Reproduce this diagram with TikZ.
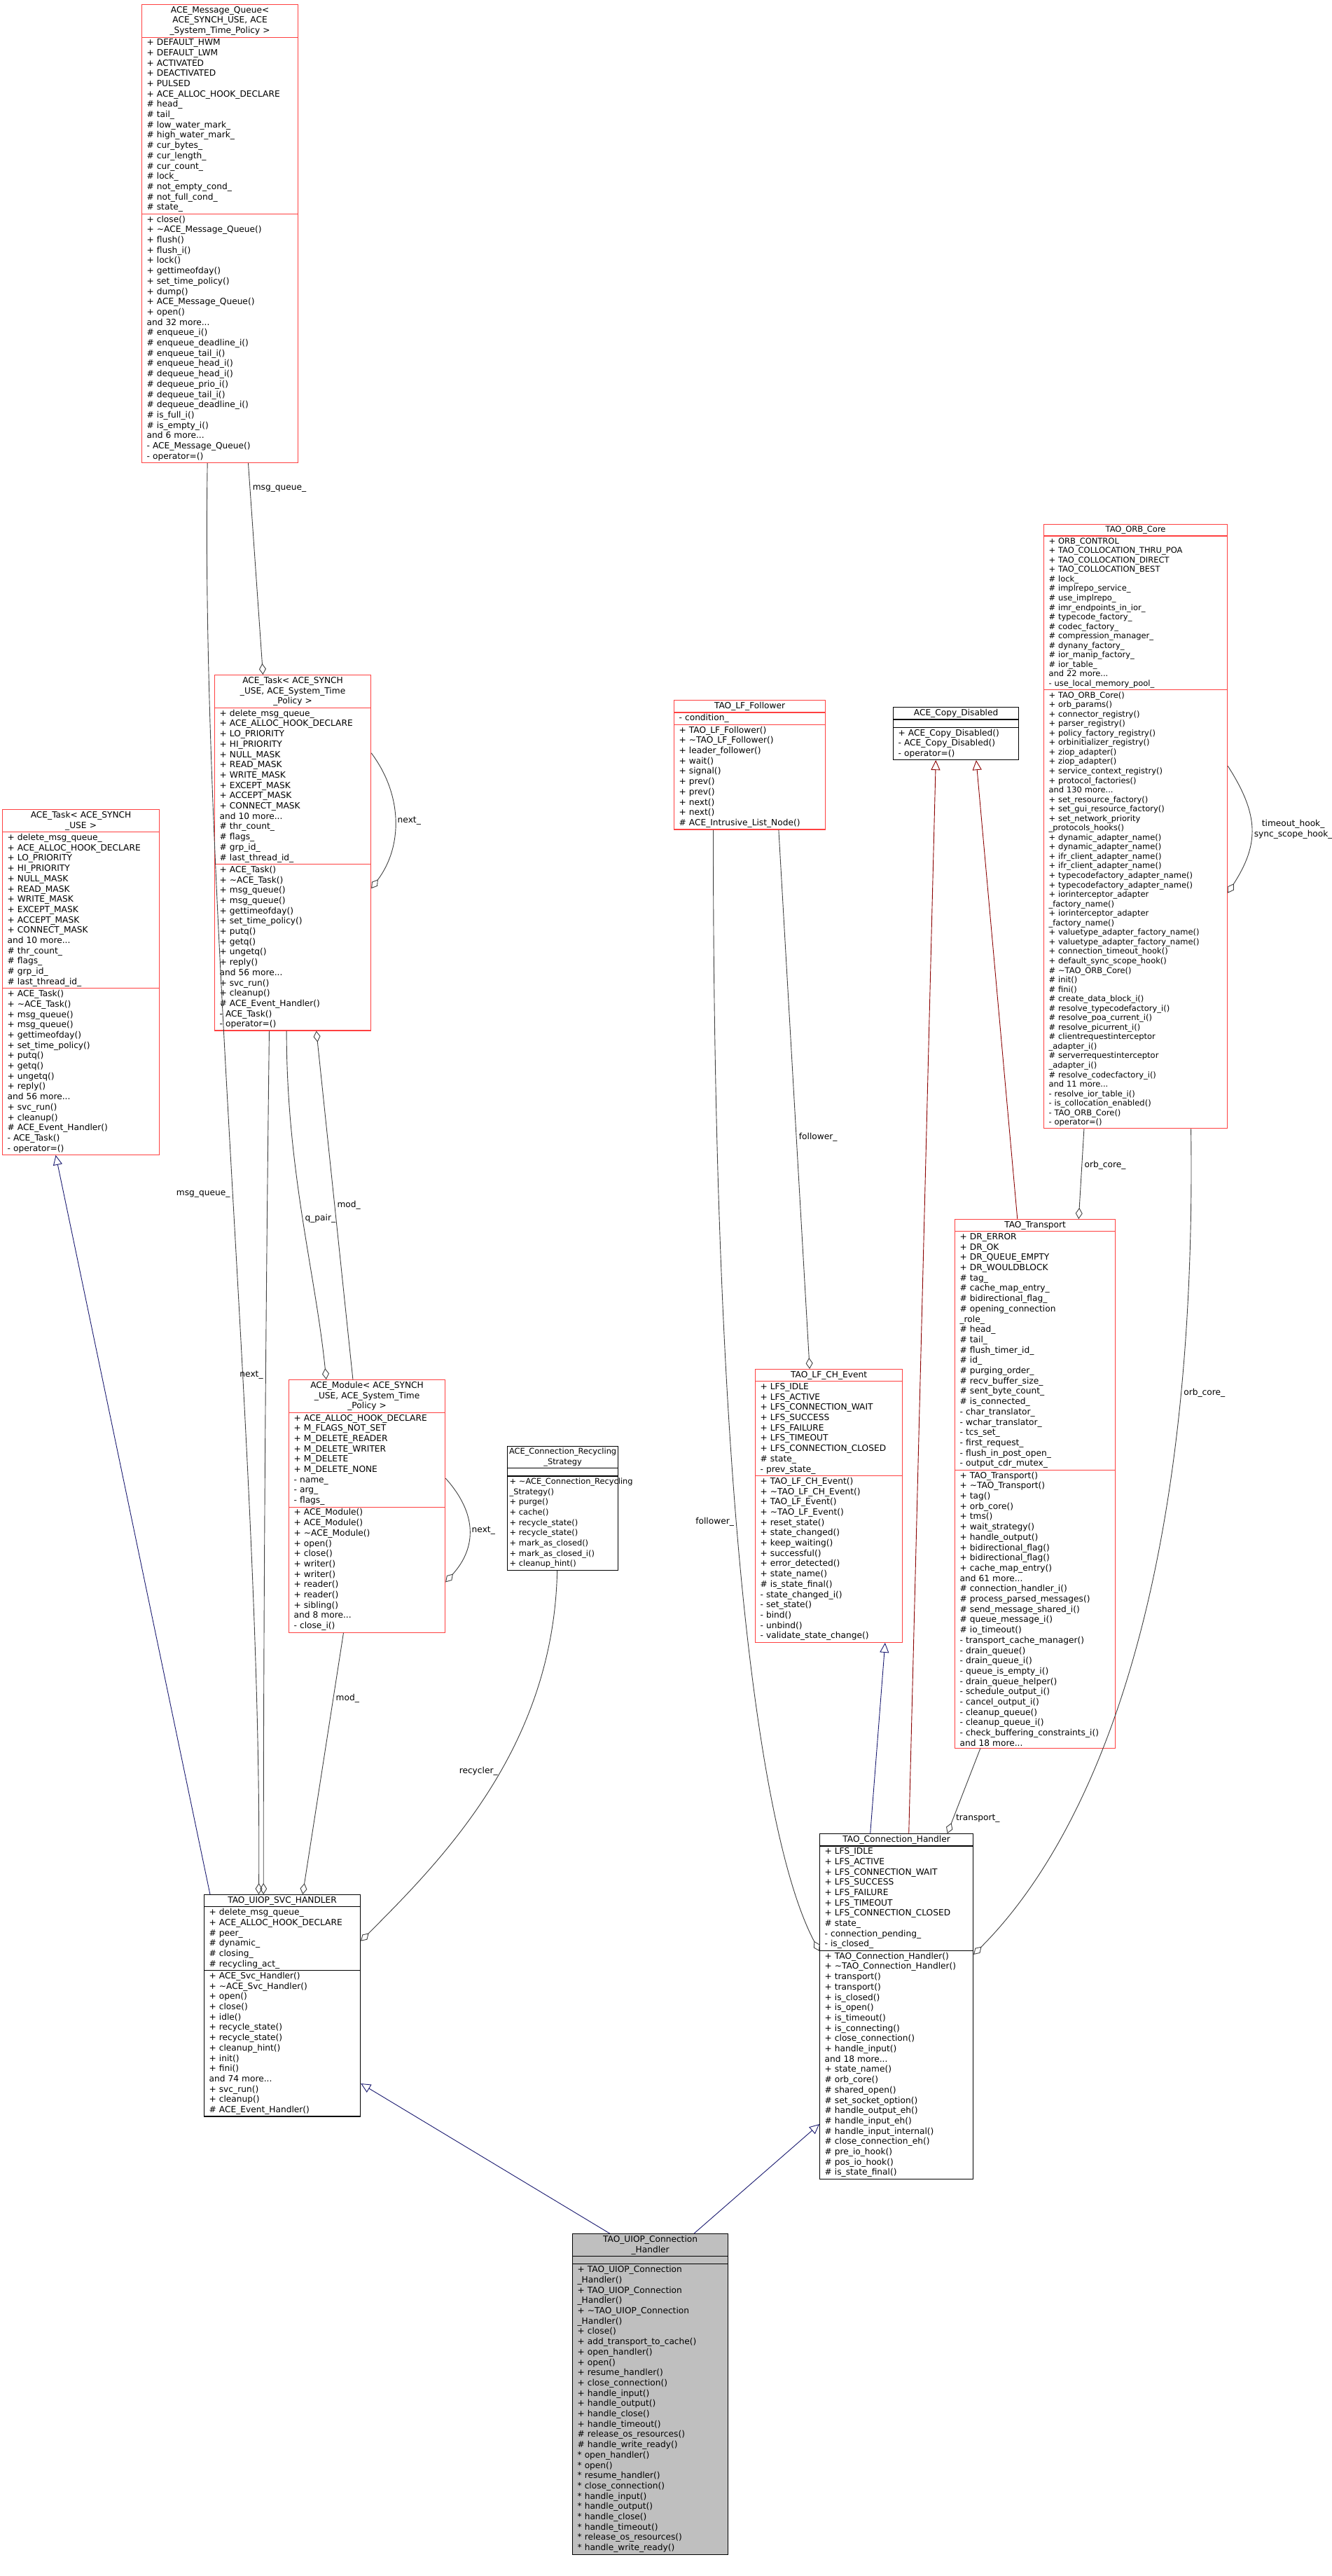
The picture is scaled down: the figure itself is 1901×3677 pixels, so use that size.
\documentclass[tikz,border=0pt]{standalone}
\usepackage{fontspec}
\setmainfont{DejaVu Sans}
\usetikzlibrary{shapes.multipart,arrows.meta,calc}
\definecolor{BoxRed}{RGB}{255,64,64}
\definecolor{EdgeGray}{RGB}{64,64,64}
\definecolor{InhBlue}{RGB}{25,25,112}
\definecolor{InhRed}{RGB}{139,0,0}
\definecolor{MainGray}{RGB}{191,191,191}
\newcommand\titleLine[1]{\makebox[\hsize][c]{#1}}

\begin{document}
\catcode`\_=12
\begin{tikzpicture}[x=1pt, y=-1pt,
    font=\fontsize{12.2}{14.7}\selectfont,
    classBox/.style={rectangle split, rectangle split parts=3, draw=BoxRed,
        line width=1.2pt, fill=white, anchor=north west, align=left,
        inner xsep=7pt, inner ysep=2pt},
    blackBox/.style={classBox, draw=black},
    aggLine/.style={draw=EdgeGray, line width=0.9pt,
        -{Diamond[open,length=16pt,width=10pt]}},
    inhBlue/.style={draw=InhBlue, line width=0.9pt,
        {Triangle[open,length=14pt,width=13pt]}-},
    inhRed/.style={inhBlue, draw=InhRed}]

    \fill[white] (0,0) rectangle (1901,3677);
    \useasboundingbox (0,0) rectangle (1901,3677);

    \node[classBox, text width=209pt] (MsgQueue) at (202,6) {\titleLine{ACE_Message_Queue<}\\\titleLine{ACE_SYNCH_USE, ACE}\\\titleLine{_System_Time_Policy >}
    \nodepart{two} + DEFAULT_HWM\\+ DEFAULT_LWM\\+ ACTIVATED\\+ DEACTIVATED\\+ PULSED\\+ ACE_ALLOC_HOOK_DECLARE\\\# head_\\\# tail_\\\# low_water_mark_\\\# high_water_mark_\\\# cur_bytes_\\\# cur_length_\\\# cur_count_\\\# lock_\\\# not_empty_cond_\\\# not_full_cond_\\\# state_
    \nodepart{three} + close()\\+ \textasciitilde ACE_Message_Queue()\\+ flush()\\+ flush_i()\\+ lock()\\+ gettimeofday()\\+ set_time_policy()\\+ dump()\\+ ACE_Message_Queue()\\+ open()\\and 32 more...\\\# enqueue_i()\\\# enqueue_deadline_i()\\\# enqueue_tail_i()\\\# enqueue_head_i()\\\# dequeue_head_i()\\\# dequeue_prio_i()\\\# dequeue_tail_i()\\\# dequeue_deadline_i()\\\# is_full_i()\\\# is_empty_i()\\and 6 more...\\- ACE_Message_Queue()\\- operator=()};

    \node[classBox, text width=209pt] (Task) at (306,963) {\titleLine{ACE_Task< ACE_SYNCH}\\\titleLine{_USE, ACE_System_Time}\\\titleLine{_Policy >}
    \nodepart{two} + delete_msg_queue_\\+ ACE_ALLOC_HOOK_DECLARE\\+ LO_PRIORITY\\+ HI_PRIORITY\\+ NULL_MASK\\+ READ_MASK\\+ WRITE_MASK\\+ EXCEPT_MASK\\+ ACCEPT_MASK\\+ CONNECT_MASK\\and 10 more...\\\# thr_count_\\\# flags_\\\# grp_id_\\\# last_thread_id_
    \nodepart{three} + ACE_Task()\\+ \textasciitilde ACE_Task()\\+ msg_queue()\\+ msg_queue()\\+ gettimeofday()\\+ set_time_policy()\\+ putq()\\+ getq()\\+ ungetq()\\+ reply()\\and 56 more...\\+ svc_run()\\+ cleanup()\\\# ACE_Event_Handler()\\- ACE_Task()\\- operator=()};

    \node[classBox, text width=210pt] (TaskSynch) at (3,1155) {\titleLine{ACE_Task< ACE_SYNCH}\\\titleLine{_USE >}
    \nodepart{two} + delete_msg_queue_\\+ ACE_ALLOC_HOOK_DECLARE\\+ LO_PRIORITY\\+ HI_PRIORITY\\+ NULL_MASK\\+ READ_MASK\\+ WRITE_MASK\\+ EXCEPT_MASK\\+ ACCEPT_MASK\\+ CONNECT_MASK\\and 10 more...\\\# thr_count_\\\# flags_\\\# grp_id_\\\# last_thread_id_
    \nodepart{three} + ACE_Task()\\+ \textasciitilde ACE_Task()\\+ msg_queue()\\+ msg_queue()\\+ gettimeofday()\\+ set_time_policy()\\+ putq()\\+ getq()\\+ ungetq()\\+ reply()\\and 56 more...\\+ svc_run()\\+ cleanup()\\\# ACE_Event_Handler()\\- ACE_Task()\\- operator=()};

    \node[classBox, text width=209pt] (Module) at (412,1969) {\titleLine{ACE_Module< ACE_SYNCH}\\\titleLine{_USE, ACE_System_Time}\\\titleLine{_Policy >}
    \nodepart{two} + ACE_ALLOC_HOOK_DECLARE\\+ M_FLAGS_NOT_SET\\+ M_DELETE_READER\\+ M_DELETE_WRITER\\+ M_DELETE\\+ M_DELETE_NONE\\- name_\\- arg_\\- flags_
    \nodepart{three} + ACE_Module()\\+ ACE_Module()\\+ \textasciitilde ACE_Module()\\+ open()\\+ close()\\+ writer()\\+ writer()\\+ reader()\\+ reader()\\+ sibling()\\and 8 more...\\- close_i()};

    \node[blackBox, text width=152pt, inner xsep=3pt, font=\fontsize{11.4}{14.7}\selectfont] (Recycler) at (724,2064) {\titleLine{ACE_Connection_Recycling}\\\titleLine{_Strategy}
    \nodepart{two} \rule{0pt}{6pt}
    \nodepart{three} \mbox{+ \textasciitilde ACE_Connection_Recycling}\\_Strategy()\\+ purge()\\+ cache()\\+ recycle_state()\\+ recycle_state()\\+ mark_as_closed()\\+ mark_as_closed_i()\\+ cleanup_hint()};

    \node[blackBox, text width=209pt] (SvcHandler) at (291,2704) {\titleLine{TAO_UIOP_SVC_HANDLER}
    \nodepart{two} + delete_msg_queue_\\+ ACE_ALLOC_HOOK_DECLARE\\\# peer_\\\# dynamic_\\\# closing_\\\# recycling_act_
    \nodepart{three} + ACE_Svc_Handler()\\+ \textasciitilde ACE_Svc_Handler()\\+ open()\\+ close()\\+ idle()\\+ recycle_state()\\+ recycle_state()\\+ cleanup_hint()\\+ init()\\+ fini()\\and 74 more...\\+ svc_run()\\+ cleanup()\\\# ACE_Event_Handler()};

    \node[blackBox, fill=MainGray, text width=208pt] (UiopHandler) at (817,3188) {\titleLine{TAO_UIOP_Connection}\\\titleLine{_Handler}
    \nodepart{two} \rule{0pt}{6pt}
    \nodepart{three} + TAO_UIOP_Connection\\_Handler()\\+ TAO_UIOP_Connection\\_Handler()\\+ \textasciitilde TAO_UIOP_Connection\\_Handler()\\+ close()\\+ add_transport_to_cache()\\+ open_handler()\\+ open()\\+ resume_handler()\\+ close_connection()\\+ handle_input()\\+ handle_output()\\+ handle_close()\\+ handle_timeout()\\\# release_os_resources()\\\# handle_write_ready()\\{}* open_handler()\\{}* open()\\{}* resume_handler()\\{}* close_connection()\\{}* handle_input()\\{}* handle_output()\\{}* handle_close()\\{}* handle_timeout()\\{}* release_os_resources()\\{}* handle_write_ready()};

    \node[blackBox, text width=205pt] (ConnHandler) at (1170,2617) {\titleLine{TAO_Connection_Handler}
    \nodepart{two} + LFS_IDLE\\+ LFS_ACTIVE\\+ LFS_CONNECTION_WAIT\\+ LFS_SUCCESS\\+ LFS_FAILURE\\+ LFS_TIMEOUT\\+ LFS_CONNECTION_CLOSED\\\# state_\\- connection_pending_\\- is_closed_
    \nodepart{three} + TAO_Connection_Handler()\\+ \textasciitilde TAO_Connection_Handler()\\+ transport()\\+ transport()\\+ is_closed()\\+ is_open()\\+ is_timeout()\\+ is_connecting()\\+ close_connection()\\+ handle_input()\\and 18 more...\\+ state_name()\\\# orb_core()\\\# shared_open()\\\# set_socket_option()\\\# handle_output_eh()\\\# handle_input_eh()\\\# handle_input_internal()\\\# close_connection_eh()\\\# pre_io_hook()\\\# pos_io_hook()\\\# is_state_final()};

    \node[classBox, text width=196pt] (LfChEvent) at (1078,1954) {\titleLine{TAO_LF_CH_Event}
    \nodepart{two} + LFS_IDLE\\+ LFS_ACTIVE\\+ LFS_CONNECTION_WAIT\\+ LFS_SUCCESS\\+ LFS_FAILURE\\+ LFS_TIMEOUT\\+ LFS_CONNECTION_CLOSED\\\# state_\\- prev_state_
    \nodepart{three} + TAO_LF_CH_Event()\\+ \textasciitilde TAO_LF_CH_Event()\\+ TAO_LF_Event()\\+ \textasciitilde TAO_LF_Event()\\+ reset_state()\\+ state_changed()\\+ keep_waiting()\\+ successful()\\+ error_detected()\\+ state_name()\\\# is_state_final()\\- state_changed_i()\\- set_state()\\- bind()\\- unbind()\\- validate_state_change()};

    \node[classBox, text width=202pt] (LfFollower) at (962,999) {\titleLine{TAO_LF_Follower}
    \nodepart{two} - condition_
    \nodepart{three} + TAO_LF_Follower()\\+ \textasciitilde TAO_LF_Follower()\\+ leader_follower()\\+ wait()\\+ signal()\\+ prev()\\+ prev()\\+ next()\\+ next()\\\# ACE_Intrusive_List_Node()};

    \node[blackBox, text width=165pt] (CopyDisabled) at (1275,1009) {\titleLine{ACE_Copy_Disabled}
    \nodepart{two} \rule{0pt}{6pt}
    \nodepart{three} + ACE_Copy_Disabled()\\- ACE_Copy_Disabled()\\- operator=()};

    \node[classBox, text width=215pt] (Transport) at (1363,1740) {\titleLine{TAO_Transport}
    \nodepart{two} + DR_ERROR\\+ DR_OK\\+ DR_QUEUE_EMPTY\\+ DR_WOULDBLOCK\\\# tag_\\\# cache_map_entry_\\\# bidirectional_flag_\\\# opening_connection\\_role_\\\# head_\\\# tail_\\\# flush_timer_id_\\\# id_\\\# purging_order_\\\# recv_buffer_size_\\\# sent_byte_count_\\\# is_connected_\\- char_translator_\\- wchar_translator_\\- tcs_set_\\- first_request_\\- flush_in_post_open_\\- output_cdr_mutex_
    \nodepart{three} + TAO_Transport()\\+ \textasciitilde TAO_Transport()\\+ tag()\\+ orb_core()\\+ tms()\\+ wait_strategy()\\+ handle_output()\\+ bidirectional_flag()\\+ bidirectional_flag()\\+ cache_map_entry()\\and 61 more...\\\# connection_handler_i()\\\# process_parsed_messages()\\\# send_message_shared_i()\\\# queue_message_i()\\\# io_timeout()\\- transport_cache_manager()\\- drain_queue()\\- drain_queue_i()\\- queue_is_empty_i()\\- drain_queue_helper()\\- schedule_output_i()\\- cancel_output_i()\\- cleanup_queue()\\- cleanup_queue_i()\\- check_buffering_constraints_i()\\and 18 more...};

    \node[classBox, text width=248pt, font=\fontsize{11.5}{13.55}\selectfont] (OrbCore) at (1490,748) {\titleLine{TAO_ORB_Core}
    \nodepart{two} + ORB_CONTROL\\+ TAO_COLLOCATION_THRU_POA\\+ TAO_COLLOCATION_DIRECT\\+ TAO_COLLOCATION_BEST\\\# lock_\\\# implrepo_service_\\\# use_implrepo_\\\# imr_endpoints_in_ior_\\\# typecode_factory_\\\# codec_factory_\\\# compression_manager_\\\# dynany_factory_\\\# ior_manip_factory_\\\# ior_table_\\and 22 more...\\- use_local_memory_pool_
    \nodepart{three} + TAO_ORB_Core()\\+ orb_params()\\+ connector_registry()\\+ parser_registry()\\+ policy_factory_registry()\\+ orbinitializer_registry()\\+ ziop_adapter()\\+ ziop_adapter()\\+ service_context_registry()\\+ protocol_factories()\\and 130 more...\\+ set_resource_factory()\\+ set_gui_resource_factory()\\+ set_network_priority\\_protocols_hooks()\\+ dynamic_adapter_name()\\+ dynamic_adapter_name()\\+ ifr_client_adapter_name()\\+ ifr_client_adapter_name()\\+ typecodefactory_adapter_name()\\+ typecodefactory_adapter_name()\\+ iorinterceptor_adapter\\_factory_name()\\+ iorinterceptor_adapter\\_factory_name()\\+ valuetype_adapter_factory_name()\\+ valuetype_adapter_factory_name()\\+ connection_timeout_hook()\\+ default_sync_scope_hook()\\\# \textasciitilde TAO_ORB_Core()\\\# init()\\\# fini()\\\# create_data_block_i()\\\# resolve_typecodefactory_i()\\\# resolve_poa_current_i()\\\# resolve_picurrent_i()\\\# clientrequestinterceptor\\_adapter_i()\\\# serverrequestinterceptor\\_adapter_i()\\\# resolve_codecfactory_i()\\and 11 more...\\- resolve_ior_table_i()\\- is_collocation_enabled()\\- TAO_ORB_Core()\\- operator=()};

    % members of the ACE side
    \draw[aggLine] ($(MsgQueue.south west)!0.68!(MsgQueue.south east)$)
        -- node[right, pos=0.12] {msg_queue_} ($(Task.north west)!0.31!(Task.north east)$);
    \draw[aggLine] ($(MsgQueue.south west)!0.42!(MsgQueue.south east)$)
        .. controls +(-10,600) and +(5,-600) .. node[left, pos=0.51] {msg_queue_} ($(SvcHandler.north west)!0.35!(SvcHandler.north east)$);
    \draw[aggLine] ($(Task.south west)!0.35!(Task.south east)$)
        .. controls +(-5,400) and +(0,-400) .. node[left, pos=0.4] {next_} ($(SvcHandler.north west)!0.38!(SvcHandler.north east)$);
    \draw[aggLine] ($(Task.south west)!0.46!(Task.south east)$)
        .. controls +(0,200) and +(-15,-150) .. node[right, pos=0.5] {q_pair_} ($(Module.north west)!0.24!(Module.north east)$);
    \draw[aggLine] ($(Module.north west)!0.41!(Module.north east)$)
        -- node[right, pos=0.5] {mod_} ($(Task.south west)!0.65!(Task.south east)$);
    \draw[aggLine] ($(Module.south west)!0.35!(Module.south east)$)
        -- node[right, pos=0.25] {mod_} ($(SvcHandler.north west)!0.63!(SvcHandler.north east)$);
    \draw[aggLine] ($(Task.north east)!0.22!(Task.south east)$)
        .. controls +(45,60) and +(45,-60) .. node[right] {next_} ($(Task.north east)!0.6!(Task.south east)$);
    \draw[aggLine] ($(Module.north east)!0.39!(Module.south east)$)
        .. controls +(45,50) and +(45,-50) .. node[right] {next_} ($(Module.north east)!0.8!(Module.south east)$);
    \draw[aggLine] ($(Recycler.south west)!0.45!(Recycler.south east)$)
        .. controls +(-5,250) and +(120,-120) .. node[left, pos=0.45] {recycler_} ($(SvcHandler.north east)!0.21!(SvcHandler.south east)$);

    % members of the TAO side
    \draw[aggLine] ($(LfFollower.south west)!0.26!(LfFollower.south east)$)
        .. controls +(0,1000) and +(-80,-150) .. node[left, pos=0.42] {follower_} ($(ConnHandler.north west)!0.34!(ConnHandler.south west)$);
    \draw[aggLine] ($(LfFollower.south west)!0.69!(LfFollower.south east)$)
        -- node[right, pos=0.57] {follower_} ($(LfChEvent.north west)!0.37!(LfChEvent.north east)$);
    \draw[aggLine] ($(OrbCore.south west)!0.22!(OrbCore.south east)$)
        -- node[right, pos=0.4] {orb_core_} ($(Transport.north west)!0.77!(Transport.north east)$);
    \draw[aggLine] ($(OrbCore.south west)!0.8!(OrbCore.south east)$)
        .. controls +(10,700) and +(150,-150) .. node[right, pos=0.2] {orb_core_} ($(ConnHandler.north east)!0.35!(ConnHandler.south east)$);
    \draw[aggLine] ($(Transport.south west)!0.16!(Transport.south east)$)
        -- node[right, pos=0.82] {transport_} ($(ConnHandler.north west)!0.83!(ConnHandler.north east)$);
    \draw[aggLine] ($(OrbCore.north east)!0.4!(OrbCore.south east)$)
        .. controls +(45,70) and +(45,-70) .. node[right, align=center] {timeout_hook_\\sync_scope_hook_} ($(OrbCore.north east)!0.61!(OrbCore.south east)$);

    % inheritance
    \draw[inhBlue] ($(TaskSynch.south west)!0.34!(TaskSynch.south east)$)
        -- ($(SvcHandler.north west)!0.04!(SvcHandler.north east)$);
    \draw[inhBlue] ($(SvcHandler.north east)!0.85!(SvcHandler.south east)$)
        -- ($(UiopHandler.north west)!0.24!(UiopHandler.north east)$);
    \draw[inhBlue] ($(ConnHandler.north west)!0.84!(ConnHandler.south west)$)
        -- ($(UiopHandler.north west)!0.78!(UiopHandler.north east)$);
    \draw[inhBlue] ($(LfChEvent.south west)!0.88!(LfChEvent.south east)$)
        -- ($(ConnHandler.north west)!0.33!(ConnHandler.north east)$);
    \draw[inhRed] ($(CopyDisabled.south west)!0.34!(CopyDisabled.south east)$)
        -- ($(ConnHandler.north west)!0.58!(ConnHandler.north east)$);
    \draw[inhRed] ($(CopyDisabled.south west)!0.66!(CopyDisabled.south east)$)
        -- ($(Transport.north west)!0.39!(Transport.north east)$);

\end{tikzpicture}
\end{document}
